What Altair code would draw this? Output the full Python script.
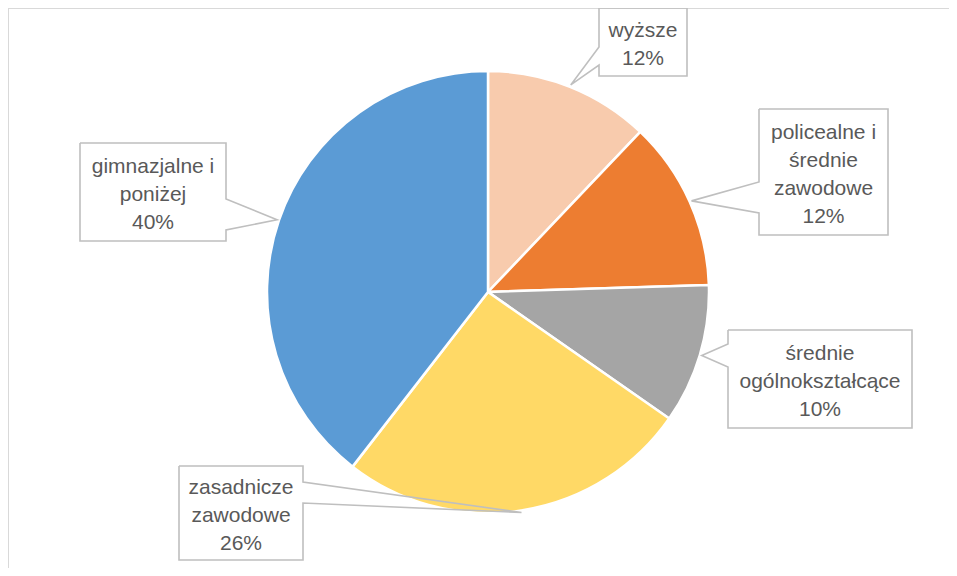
import math
import altair as alt
import pandas as pd

# ---- data ----
categories = ["wyższe", "policealne i średnie zawodowe", "średnie ogólnokształcące",
              "zasadnicze zawodowe", "gimnazjalne i poniżej"]
shares = [12.1, 12.4, 10.2, 25.8, 39.5]
label_lines = [["wyższe"], ["policealne i", "średnie", "zawodowe"],
               ["średnie", "ogólnokształcące"], ["zasadnicze", "zawodowe"],
               ["gimnazjalne i", "poniżej"]]
colors = ["#F8CBAD", "#ED7D31", "#A5A5A5", "#FFD966", "#5B9BD5"]

# ---- layout (pixels, chart coordinates) ----
W, H = 941, 560
CX, CY, R = 480, 284, 221
LH = 28
# box: x0, y0, x1, y1, wedge side, wedge base a, wedge base b
boxes = [
    (591, 0, 679, 68, "left", 39, 57),
    (751, 101, 880, 227, "left", 174, 205),
    (720, 322, 904, 420, "left", 336, 359),
    (171, 458, 295, 552, "right", 474, 495),
    (72, 135, 218, 233, "right", 191, 222),
]

pie_df = pd.DataFrame({"category": categories, "share": shares,
                       "idx": list(range(len(categories)))})

total = sum(shares)
poly_rows, text_rows = [], []
cum = 0.0
for i, (cat, s) in enumerate(zip(categories, shares)):
    mid = (cum + s / 2) / total * 2 * math.pi
    cum += s
    tx = CX + (R + 2) * math.sin(mid)
    ty = CY - (R + 2) * math.cos(mid)
    x0, y0, x1, y1, side, wa, wb = boxes[i]
    if side == "left":
        pts = [(x0, y0), (x1, y0), (x1, y1), (x0, y1), (x0, wb), (tx, ty), (x0, wa), (x0, y0)]
    else:
        pts = [(x0, y0), (x1, y0), (x1, wa), (tx, ty), (x1, wb), (x1, y1), (x0, y1), (x0, y0)]
    for k, (px, py) in enumerate(pts):
        poly_rows.append({"cid": cat, "k": k, "px": px, "py": py})
    lines = label_lines[i] + [f"{round(s / total * 100)}%"]
    n = len(lines)
    text_rows.append({"cid": cat, "tx": (x0 + x1) / 2,
                      "ty": (y0 + y1) / 2 + 2.5 - (n - 1) * LH / 2,
                      "txt": "\n".join(lines)})

poly_df = pd.DataFrame(poly_rows)
text_df = pd.DataFrame(text_rows)

pie = alt.Chart(pie_df).mark_arc(outerRadius=R, stroke="white", strokeWidth=2.5).encode(
    theta=alt.Theta("share:Q", stack=True),
    order=alt.Order("idx:Q"),
    color=alt.Color("category:N", scale=alt.Scale(domain=categories, range=colors), legend=None),
    x=alt.value(CX),
    y=alt.value(CY),
)

callouts = alt.Chart(poly_df).mark_line(color="#BFBFBF", strokeWidth=1.6).encode(
    x=alt.X("px:Q", scale=None, axis=None),
    y=alt.Y("py:Q", scale=None, axis=None),
    detail="cid:N",
    order="k:Q",
)

texts = alt.Chart(text_df).mark_text(
    font="Liberation Sans", fontSize=21, color="#595959", lineBreak="\n",
    lineHeight=LH, align="center", baseline="middle"
).encode(
    x=alt.X("tx:Q", scale=None, axis=None),
    y=alt.Y("ty:Q", scale=None, axis=None),
    text="txt:N",
)

frame_top = alt.Chart(pie_df).mark_rule(color="#D9D9D9", strokeWidth=2).encode(
    x=alt.value(0), x2=alt.value(W), y=alt.value(0)
)
frame_left = alt.Chart(pie_df).mark_rule(color="#D9D9D9", strokeWidth=2).encode(
    x=alt.value(0), y=alt.value(0), y2=alt.value(H)
)

chart = alt.layer(frame_top, frame_left, pie, callouts, texts).properties(
    width=W, height=H, padding=0, autosize=alt.AutoSizeParams(type="none")
).configure_view(stroke=None)

chart.save("out.html", embed_options={"renderer": "svg", "actions": False})
